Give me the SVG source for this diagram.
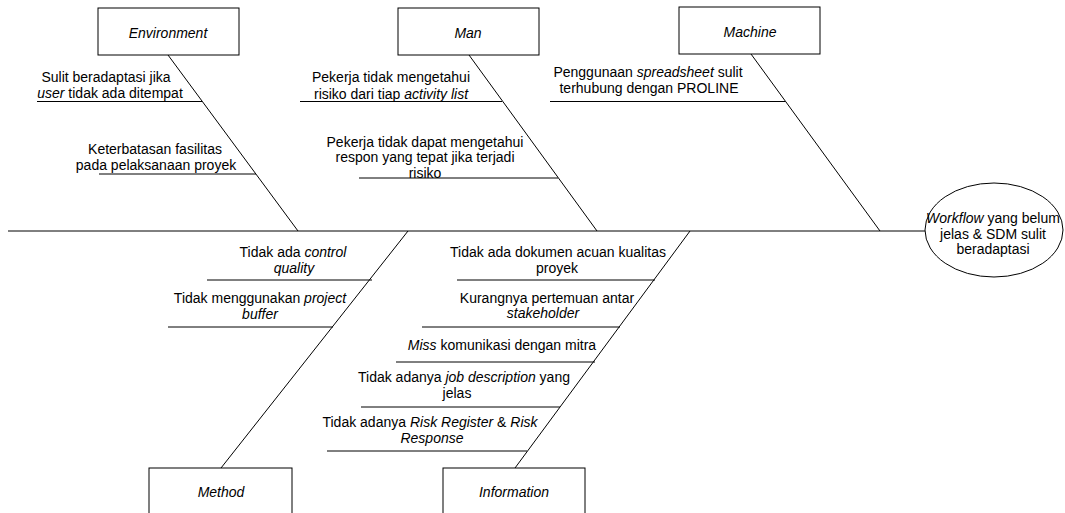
<svg xmlns="http://www.w3.org/2000/svg" width="1065" height="513" viewBox="0 0 1065 513">
<style>
  .ln { stroke: #000; stroke-width: 1; fill: none; }
  .box { fill: #fff; stroke: #000; stroke-width: 1; }
  text { font-family: "Liberation Sans", Arial, sans-serif; font-size: 14px; fill: #000; text-anchor: middle; }
  .it { font-style: italic; }
</style>
<rect width="1065" height="513" fill="#fff"/>
<g id="connectors">
  <line class="ln" x1="8" y1="231" x2="925" y2="231"/>
  <line class="ln" x1="168" y1="55" x2="298" y2="231"/>
  <line class="ln" x1="469" y1="55" x2="597" y2="231"/>
  <line class="ln" x1="751" y1="54" x2="880" y2="231"/>
  <line class="ln" x1="408" y1="231" x2="221" y2="468"/>
  <line class="ln" x1="690" y1="231" x2="515" y2="468"/>
  <line class="ln" x1="37" y1="101.5" x2="202" y2="101.5"/>
  <line class="ln" x1="99" y1="174" x2="256" y2="174"/>
  <line class="ln" x1="300" y1="101.5" x2="502" y2="101.5"/>
  <line class="ln" x1="359" y1="178" x2="558" y2="178"/>
  <line class="ln" x1="550" y1="101.5" x2="785" y2="101.5"/>
  <line class="ln" x1="207" y1="280" x2="372" y2="280"/>
  <line class="ln" x1="168" y1="327" x2="333" y2="327"/>
  <line class="ln" x1="457" y1="280" x2="655" y2="280"/>
  <line class="ln" x1="422" y1="327" x2="620" y2="327"/>
  <line class="ln" x1="396" y1="362" x2="595" y2="362"/>
  <line class="ln" x1="361" y1="407" x2="560" y2="407"/>
  <line class="ln" x1="327" y1="451" x2="527" y2="451"/>
</g>
<g id="causes">
  <text x="106" y="82">Sulit beradaptasi jika</text>
  <text x="110" y="98"><tspan class="it">user</tspan> tidak ada ditempat</text>
  <text x="155" y="154">Keterbatasan fasilitas</text>
  <text x="156" y="170">pada pelaksanaan proyek</text>
  <text x="391" y="82">Pekerja tidak mengetahui</text>
  <text x="391" y="99">risiko dari tiap <tspan class="it">activity list</tspan></text>
  <text x="425" y="147">Pekerja tidak dapat mengetahui</text>
  <text x="425" y="162">respon yang tepat jika terjadi</text>
  <text x="425" y="178">risiko</text>
  <text x="648" y="77">Penggunaan <tspan class="it">spreadsheet</tspan> sulit</text>
  <text x="649" y="93">terhubung dengan PROLINE</text>
  <text x="293" y="257">Tidak ada <tspan class="it">control</tspan></text>
  <text x="294" y="273" class="it">quality</text>
  <text x="260" y="303">Tidak menggunakan <tspan class="it">project</tspan></text>
  <text x="260" y="319" class="it">buffer</text>
  <text x="558" y="257">Tidak ada dokumen acuan kualitas</text>
  <text x="557" y="273">proyek</text>
  <text x="547" y="303">Kurangnya pertemuan antar</text>
  <text x="543" y="318" class="it">stakeholder</text>
  <text x="502" y="350"><tspan class="it">Miss</tspan> komunikasi dengan mitra</text>
  <text x="464" y="382">Tidak adanya <tspan class="it">job description</tspan> yang</text>
  <text x="457" y="398">jelas</text>
  <text x="430" y="427">Tidak adanya <tspan class="it">Risk Register</tspan> &amp; <tspan class="it">Risk</tspan></text>
  <text x="432" y="443" class="it">Response</text>
</g>
<g id="environment">
  <rect class="box" x="98" y="8" width="141" height="47"/>
  <text x="168" y="38" class="it">Environment</text>
</g>
<g id="man">
  <rect class="box" x="398" y="8" width="141" height="47"/>
  <text x="468" y="38" class="it">Man</text>
</g>
<g id="machine">
  <rect class="box" x="679" y="7" width="141" height="47"/>
  <text x="750" y="37" class="it">Machine</text>
</g>
<g id="method">
  <rect class="box" x="149" y="468" width="143" height="60"/>
  <text x="221" y="497" class="it">Method</text>
</g>
<g id="information">
  <rect class="box" x="443" y="468" width="142" height="60"/>
  <text x="514" y="497" class="it">Information</text>
</g>
<g id="effect">
  <ellipse class="box" cx="994" cy="230" rx="69" ry="47"/>
  <text x="993" y="223"><tspan class="it">Workflow</tspan> yang belum</text>
  <text x="993" y="239">jelas &amp; SDM sulit</text>
  <text x="993" y="254">beradaptasi</text>
</g>
</svg>
